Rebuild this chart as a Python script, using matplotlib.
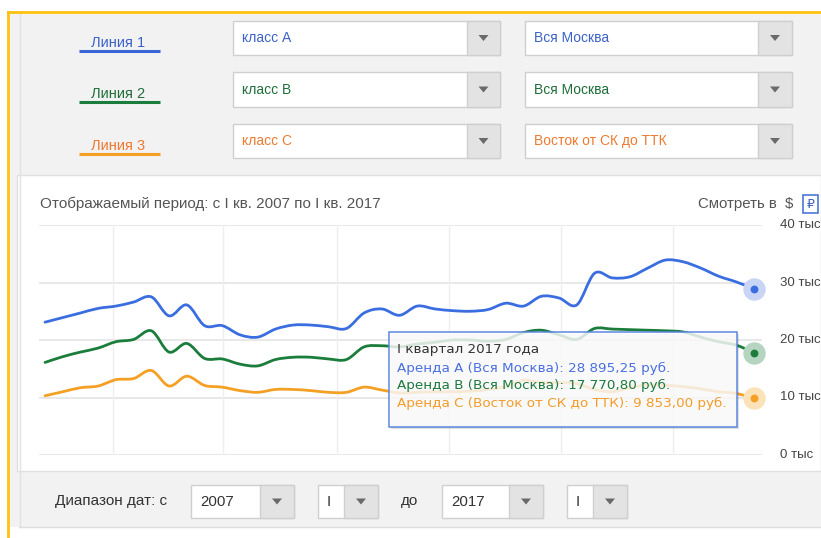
import numpy as np
import matplotlib.pyplot as plt
from matplotlib.patches import Rectangle, Polygon, PathPatch
from matplotlib.path import Path

W, H = 821, 538

# квартальные ставки аренды, тыс. руб. (I кв. 2007 ... I кв. 2017)
quarters = np.arange(41)
rent_a = [23.1, 23.9, 24.7, 25.5, 25.9, 26.6, 27.5, 24.2, 26.1, 22.5,
          22.5, 20.9, 20.5, 21.9, 22.6, 22.6, 22.3, 22.0, 24.7, 25.4,
          24.3, 25.9, 25.4, 25.1, 25.0, 25.3, 26.4, 25.9, 27.6, 27.3,
          26.1, 31.6, 30.8, 31.0, 32.5, 33.9, 33.6, 32.5, 31.1, 30.1,
          28.895]
rent_b = [16.1, 17.1, 17.9, 18.6, 19.7, 20.1, 21.6, 17.9, 19.4, 16.8,
          16.7, 15.8, 15.5, 16.6, 17.0, 17.0, 16.7, 16.6, 18.8, 19.0,
          18.8, 19.3, 19.6, 20.0, 20.0, 19.8, 20.1, 21.3, 21.7, 20.9,
          20.1, 22.0, 21.9, 21.8, 21.7, 21.6, 21.4, 20.5, 19.7, 19.1,
          17.771]
rent_c = [10.3, 11.0, 11.7, 12.0, 13.1, 13.3, 14.7, 12.0, 13.7, 12.1,
          11.8, 11.2, 10.9, 11.4, 11.4, 11.2, 10.9, 10.9, 11.8, 11.3,
          10.8, 10.9, 11.0, 11.0, 11.1, 11.4, 11.9, 13.0, 12.6, 12.6,
          12.4, 11.4, 11.0, 11.7, 12.2, 12.1, 11.9, 11.5, 11.0, 10.7,
          9.853]

y_ticks = [0, 10, 20, 30, 40]
y_tick_labels = ['0 тыс', '10 тыс', '20 тыс', '30 тыс', '40 тыс']
x_grid = [3.84, 10.04, 16.47, 22.79, 29.11, 35.43]

line_labels = ['Линия 1', 'Линия 2', 'Линия 3']
class_labels = ['класс А', 'класс В', 'класс С']
area_labels = ['Вся Москва', 'Вся Москва', 'Восток от СК до ТТК']
title = 'Отображаемый период: с I кв. 2007 по I кв. 2017'
tooltip_title = 'I квартал 2017 года'
tooltip_lines = ['Аренда А (Вся Москва): 28 895,25 руб.',
                 'Аренда В (Вся Москва): 17 770,80 руб.',
                 'Аренда С (Восток от СК до ТТК): 9 853,00 руб.']

line_colors = ['#3a6ee0', '#1b7d3c', '#f4a024']
halo_colors = ['#c8d5f6', '#b5d5c0', '#fbe2b8']
ui_colors = ['#3b62c8', '#1e6e3a', '#ee7a30']
tip_colors = ['#4a6fe0', '#1e7a3e', '#f39c2a']

plain = ['Liberation Sans', 'DejaVu Sans']


def smooth_path(x, y):
    # кривая Безье через точки (как curveType 'function')
    x = np.asarray(x, float)
    y = np.asarray(y, float)
    n = len(x)
    verts = [(x[0], y[0])]
    codes = [Path.MOVETO]
    for i in range(n - 1):
        p0 = i - 1 if i > 0 else i
        p3 = i + 2 if i + 2 < n else i + 1
        c1 = (x[i] + (x[i + 1] - x[p0]) / 6, y[i] + (y[i + 1] - y[p0]) / 6)
        c2 = (x[i + 1] - (x[p3] - x[i]) / 6, y[i + 1] - (y[p3] - y[i]) / 6)
        verts += [c1, c2, (x[i + 1], y[i + 1])]
        codes += [Path.CURVE4] * 3
    return Path(verts, codes)


def dropdown(ax, x0, y0, x1, y1, arrow_w, text, color, fs=10):
    ax.add_patch(Rectangle((x0, y0), x1 - x0, y1 - y0, fc='white',
                           ec='#cfcfcf', lw=1))
    ax.add_patch(Rectangle((x1 - arrow_w, y0), arrow_w, y1 - y0,
                           fc='#e3e3e3', ec='#cfcfcf', lw=1))
    cx = x1 - arrow_w / 2
    cy = (y0 + y1) / 2
    ax.add_patch(Polygon([[cx - 5, cy - 3], [cx + 5, cy - 3], [cx, cy + 3]],
                         fc='#6a6a6a', ec='none'))
    ax.text(x0 + 9, cy, text, color=color, fontsize=fs, family=plain,
            va='center', ha='left')


fig = plt.figure(figsize=(W / 100, H / 100), dpi=100)

# фон интерфейса
bg = fig.add_axes([0, 0, 1, 1])
bg.set_xlim(0, W)
bg.set_ylim(H, 0)
bg.axis('off')
bg.add_patch(Rectangle((8, 12), W - 8, 515, fc='#f2f2f2', ec='none'))
bg.plot([20, 20], [12, 527], color='#e2e2e2', lw=1)
bg.plot([19, W], [527, 527], color='#dcdcdc', lw=1)
bg.plot([8, W], [12, 12], color='#ffc20e', lw=2)
bg.plot([8, 8], [12, H], color='#ffc20e', lw=2)
bg.add_patch(Rectangle((17, 175), W - 17, 296, fc='white', ec='#e0e0e0', lw=1))

rows_y = [(21, 55), (72, 107), (124, 158)]
for i, (y0, y1) in enumerate(rows_y):
    cy = (y0 + y1) / 2 + 5
    bg.text(118, cy, line_labels[i], color=ui_colors[i], fontsize=10.5,
            family=plain, ha='center', va='center')
    bg.plot([79, 160], [cy + 7.5, cy + 7.5],
            color=line_colors[i] if i else '#3a66d8',
            lw=2.2, solid_capstyle='butt')
    dropdown(bg, 233, y0, 500, y1, 33, class_labels[i], ui_colors[i])
    dropdown(bg, 525, y0, 792, y1, 34, area_labels[i], ui_colors[i])

# шапка графика
bg.text(40, 204, title, color='#555555', fontsize=11, family=plain,
        ha='left', va='center')
bg.text(793, 204, 'Смотреть в  $', color='#555555', fontsize=10.8,
        family=plain, ha='right', va='center')
bg.add_patch(Rectangle((803, 195), 15, 18, fc='white', ec='#4a78d8', lw=1.2))
bg.text(810.5, 204, '₽', color='#3a5fb8', fontsize=9, family=['DejaVu Sans'],
        ha='center', va='center')

for t, lab in zip(y_ticks, y_tick_labels):
    bg.text(780, 455 - t * 5.75, lab, color='#444444', fontsize=9.5,
            family=plain, ha='left', va='center')

# нижняя панель выбора дат
bg.text(55, 501, 'Диапазон дат: с', color='#333333', fontsize=11,
        family=plain, ha='left', va='center')
dropdown(bg, 191, 485, 294, 518, 34, '2007', '#333333', 10.8)
dropdown(bg, 318, 485, 378, 518, 34, 'I', '#333333', 10.8)
bg.text(401, 501, 'до', color='#333333', fontsize=11, family=plain,
        ha='left', va='center')
dropdown(bg, 442, 485, 543, 518, 34, '2017', '#333333', 10.8)
dropdown(bg, 567, 485, 627, 518, 34, 'I', '#333333', 10.8)

# сам график
ax = fig.add_axes([39 / W, (H - 455) / H, (762 - 39) / W, (455 - 225) / H],
                  zorder=2)
ax.set_xlim(-0.34, 40.45)
ax.set_ylim(0, 40)
ax.patch.set_visible(False)
ax.axis('off')
for t in y_ticks:
    ax.axhline(t, color='#e4e4e4', lw=1.2, zorder=0)
for g in x_grid:
    ax.axvline(g, color='#efefef', lw=1, zorder=0)

for vals, c, hc in zip([rent_a, rent_b, rent_c], line_colors, halo_colors):
    ax.add_patch(PathPatch(smooth_path(quarters, vals), fill=False, ec=c,
                           lw=2.0, joinstyle='round', capstyle='round', zorder=2))
    ax.scatter([quarters[-1]], [vals[-1]], s=260, color=hc, zorder=3,
               clip_on=False, linewidths=0)
    ax.scatter([quarters[-1]], [vals[-1]], s=32, color=c, zorder=4,
               clip_on=False, linewidths=0)

# всплывающая подсказка
top = fig.add_axes([0, 0, 1, 1], zorder=3)
top.set_xlim(0, W)
top.set_ylim(H, 0)
top.axis('off')
top.add_patch(Rectangle((391, 334), 348, 95, fc='#000000', alpha=0.12, ec='none'))
top.add_patch(Rectangle((389, 332), 348, 95, fc='white', alpha=0.82, ec='none'))
top.add_patch(Rectangle((389, 332), 348, 95, fill=False, ec='#5c87e0', lw=1.1))
top.text(397, 350, tooltip_title, color='#333333', fontsize=9.7,
         family=['DejaVu Sans'], ha='left', va='center')
for i, s in enumerate(tooltip_lines):
    top.text(397, 368 + i * 17.5, s, color=tip_colors[i], fontsize=9.7,
             family=['DejaVu Sans'], ha='left', va='center')

fig.savefig('out.png', dpi=100, facecolor='white')
